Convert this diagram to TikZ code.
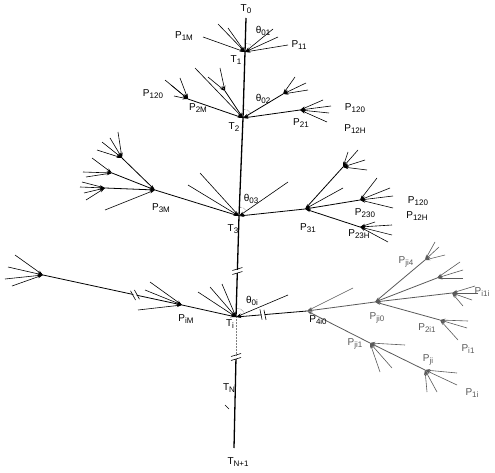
\documentclass[tikz,border=0pt]{standalone}
\usepackage{fontspec}
\setmainfont{Liberation Sans}
\usetikzlibrary{arrows.meta}

% подпись с индексом
\newcommand\lbl[2]{#1\raisebox{-0.45ex}{\footnotesize #2}}
% разрыв линии: #1 точка, #2 угол линии
\newcommand\cutmark[2]{%
  \begin{scope}[shift={(#1)},rotate=#2]
    \fill[white] (-1.5,-5) rectangle (1.5,5);
    \draw[line width=0.6pt] (-3.5,-5)--(-0.5,5) (0.5,-5)--(3.5,5);
  \end{scope}}
% пучок ветвей, сходящихся в узел #1
\newcommand\fan[2]{%
  \foreach \fx/\fy [count=\k] in {#2}{
    \coordinate (#1-\k) at (\fx,\fy);
    \draw[twig] (#1-\k) -- (#1);
  }}

\begin{document}
\begin{tikzpicture}[x=1pt,y=-1pt,>={Stealth[length=5.5pt,width=3pt]},
  stem/.style={line width=1.3pt},
  twig/.style={->,line width=0.6pt},
  limb/.style={->,line width=0.8pt},
  lab/.style={font=\normalsize,inner sep=1pt},
  ang/.style={densely dotted,line width=0.4pt}]

\useasboundingbox (0,0) rectangle (495,473);

%=== Ствол ===
\coordinate (t0) at (246,18);
\coordinate (t1) at (245,52);
\coordinate (t2) at (243,118);
\coordinate (t3) at (239,216);
\coordinate (ti) at (236,317);
\coordinate (sb) at (236,357);
\coordinate (tn) at (234,448);
\draw[stem] (t0) -- (t1) -- (t2) -- (t3) -- (ti);
\draw[line width=0.5pt,black!50,densely dotted] (ti) -- (sb);
\draw[stem] (sb) -- (tn);
\cutmark{237.4,271}{90}
\cutmark{236,357}{90}
\draw[line width=0.5pt] (225,405) -- (229,409);

%=== Узел T1 ===
\fan{t1}{203/37, 218/24, 228/28, 273/29, 278/37, 288/45}
\draw[ang] (t1) ++(0,-9) arc[start angle=-90,end angle=-50,radius=9];

%=== Узел T2 ===
\coordinate (p2m) at (188,99);
\coordinate (a2) at (225,91);
\coordinate (b2) at (283,94);
\coordinate (p21) at (300,110);
\foreach \n in {p2m,a2,b2,p21} \draw[limb] (\n) -- (t2);
\fan{t2}{195/68}
\fan{p2m}{165/80, 171/85, 180/78, 174/96}
\fan{a2}{220/68, 208/77}
\fan{b2}{295/77, 306/83, 308/90}
\fan{p21}{323/100, 331/106, 329/113, 327/122}
\draw[ang] (t2) ++(0,-9) arc[start angle=-90,end angle=-31,radius=9];

%=== Узел T3 ===
\coordinate (p3m) at (155,190);
\coordinate (p31) at (305,209);
\draw[limb] (p3m) -- (t3);
\draw[limb] (p31) -- (t3);
\fan{t3}{200/173, 188/185, 288/182}
\coordinate (c1) at (122,158);
\coordinate (c2) at (112,173);
\coordinate (c3) at (105,188);
\foreach \n in {c1,c2,c3} \draw[limb] (\n) -- (p3m);
\fan{p3m}{105/210}
\fan{c1}{118/132, 102/142, 97/150, 110/138}
\fan{c2}{92/158, 83/172, 86/177}
\fan{c3}{82/182, 80/187, 84/193, 86/200}
\coordinate (d1) at (343,167);
\coordinate (p230) at (360,200);
\coordinate (p23h) at (360,227);
\foreach \n in {d1,p230,p23h} \draw[limb] (\n) -- (p31);
\fan{p31}{343/188}
\fan{d1}{348/152, 358/150, 365/160, 367/170}
\fan{p230}{377/178, 390/188, 393/196, 393/208}
\fan{p23h}{375/222, 392/225, 392/235, 388/242}
\draw[ang] (t3) ++(0,-9) arc[start angle=-90,end angle=-35,radius=9];

%=== Узел Ti ===
\coordinate (pim) at (182,305);
\coordinate (e) at (43,275);
\coordinate (f) at (307,311);
\draw[limb] (pim) -- (ti);
\draw[limb] (e) -- (pim);
\draw[limb] (f) -- (ti);
\cutmark{135,295}{12}
\cutmark{263,314.7}{-5}
\fan{ti}{198/292, 210/287, 222/284, 288/295}
\fan{pim}{150/282, 145/290, 138/310}
\fan{e}{15/255, 8/267, 5/279, 12/286}
\draw[ang] (ti) ++(0,-9) arc[start angle=-90,end angle=-23,radius=9];

% правая часть (бледная)
\begin{scope}[black!65]
  \coordinate (g) at (375,302);
  \coordinate (k) at (370,343);
  \draw[limb] (g) -- (f);
  \draw[limb] (k) -- (f);
  \fan{f}{353/288}
  \coordinate (h1) at (425,260);
  \coordinate (h2) at (437,278);
  \coordinate (h3) at (452,293);
  \coordinate (h4) at (440,320);
  \foreach \n in {h1,h2,h3,h4} \draw[limb] (\n) -- (g);
  \fan{h1}{435/242, 439/247, 445/255}
  \fan{h2}{460/262, 463/270, 463/278}
  \fan{h3}{475/286, 478/293, 472/300, 463/306}
  \fan{h4}{468/321, 467/328, 458/340}
  \coordinate (l) at (425,370);
  \draw[limb] (l) -- (k);
  \fan{k}{405/345, 392/368, 380/372}
  \fan{l}{457/373, 457/385, 437/392, 427/392}
\end{scope}

%=== Подписи ===
\node[lab] (lt0) at (246,9) {\lbl{T}{0}};
\node[lab] (lt1) at (236,60) {\lbl{T}{1}};
\node[lab] (lp1m) at (184,36) {\lbl{P}{1M}};
\node[lab] (lth1) at (263,31) {\lbl{θ}{01}};
\node[lab] (lp11) at (299,45) {\lbl{P}{11}};
\node[lab] (lp120a) at (153,94) {\lbl{P}{120}};
\node[lab] (lp2m) at (198,108) {\lbl{P}{2M}};
\node[lab] (lth2) at (263,99) {\lbl{θ}{02}};
\node[lab] (lt2) at (234,127) {\lbl{T}{2}};
\node[lab] (lp21) at (301,123) {\lbl{P}{21}};
\node[lab] (lp120b) at (355,108) {\lbl{P}{120}};
\node[lab] (lp12hb) at (355,129) {\lbl{P}{12H}};
\node[lab] (lth3) at (251,199) {\lbl{θ}{03}};
\node[lab] (lp3m) at (161,208) {\lbl{P}{3M}};
\node[lab] (lt3) at (233,229) {\lbl{T}{3}};
\node[lab] (lp31) at (308,228) {\lbl{P}{31}};
\node[lab] (lp230) at (365,213) {\lbl{P}{230}};
\node[lab] (lp23h) at (359,234) {\lbl{P}{23H}};
\node[lab] (lp120c) at (418,201) {\lbl{P}{120}};
\node[lab] (lp12hc) at (417,216) {\lbl{P}{12H}};
\node[lab] (lth4) at (252,301) {\lbl{θ}{0i}};
\node[lab] (lpim) at (186,319) {\lbl{P}{iM}};
\node[lab] (lti) at (230,324) {\lbl{T}{i}};
\node[lab] (lp4i0) at (318,320) {\lbl{P}{4i0}};
\node[lab,black!65] (lpji0) at (377,318) {\lbl{P}{ji0}};
\node[lab,black!65] (lpji4) at (406,262) {\lbl{P}{ji4}};
\node[lab,black!65] (lpi1i) at (482,292) {\lbl{P}{i1i}};
\node[lab,black!65] (lp2i1) at (427,328) {\lbl{P}{2i1}};
\node[lab,black!65] (lpi1) at (468,349) {\lbl{P}{i1}};
\node[lab,black!65] (lpji1) at (355,344) {\lbl{P}{ji1}};
\node[lab,black!65] (lpji) at (428,360) {\lbl{P}{ji}};
\node[lab,black!65] (lp1i) at (472,393) {\lbl{P}{1i}};
\node[lab] (ltn) at (229,388) {\lbl{T}{N}};
\node[lab] (ltn1) at (238,462) {\lbl{T}{N+1}};

\end{tikzpicture}
\end{document}
